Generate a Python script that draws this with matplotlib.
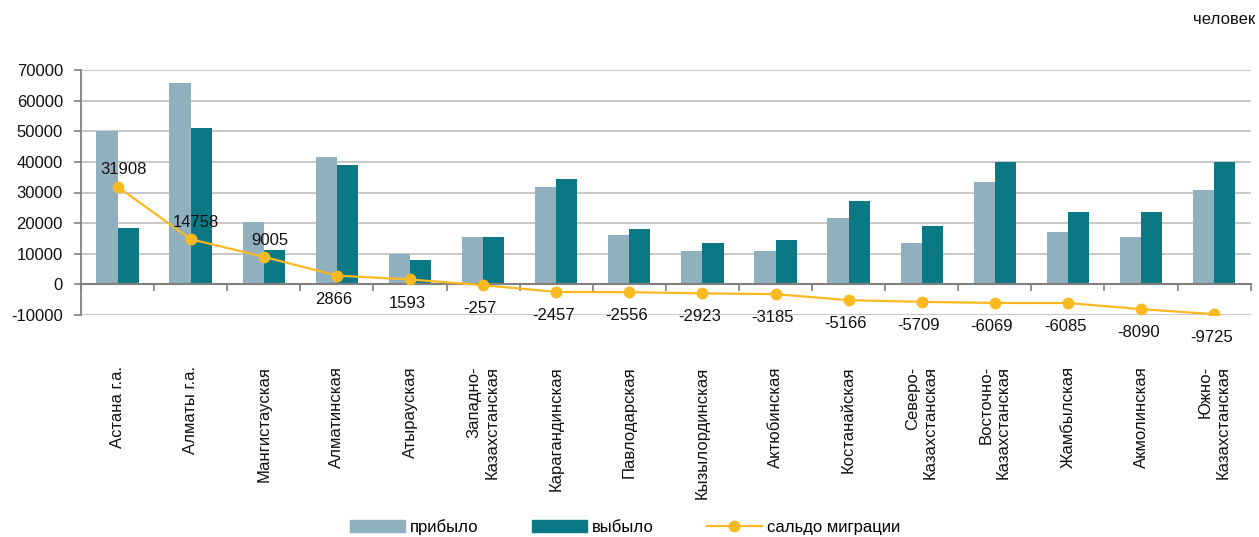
import matplotlib
matplotlib.use("Agg")
import matplotlib.pyplot as plt
import numpy as np
from matplotlib.lines import Line2D
from matplotlib.patches import Patch

plt.rcParams['font.family'] = ['Liberation Sans', 'DejaVu Sans']

categories = ["Астана г.а.", "Алматы г.а.", "Мангистауская", "Алматинская",
              "Атырауская", "Западно-\nКазахстанская", "Карагандинская",
              "Павлодарская", "Кызылординская", "Актюбинская", "Костанайская",
              "Северо-\nКазахстанская", "Восточно-\nКазахстанская",
              "Жамбылская", "Акмолинская", "Южно-\nКазахстанская"]
arrived = [50000, 65800, 20400, 41700, 9900, 15600, 31900, 16200,
           11000, 11000, 21800, 13600, 33500, 17200, 15600, 30900]
departed = [18300, 51100, 11200, 39100, 8100, 15600, 34500, 18200,
            13600, 14600, 27300, 19200, 40100, 23700, 23700, 40100]
saldo = [31908, 14758, 9005, 2866, 1593, -257, -2457, -2556,
         -2923, -3185, -5166, -5709, -6069, -6085, -8090, -9725]
yticks = [-10000, 0, 10000, 20000, 30000, 40000, 50000, 60000, 70000]

c_arr = "#8FB0BC"
c_dep = "#0B7985"
c_line = "#FBB921"
grid_c = "#C8C8C8"
spine_c = "#808080"

fig = plt.figure(figsize=(12.59, 5.37), dpi=100)
ax = fig.add_axes([81/1259, 1-315/537, (1250.7-81)/1259, (315-70)/537])

x = np.arange(len(categories))
w = 0.29
ax.bar(x - w/2, arrived, width=w, color=c_arr, zorder=2)
ax.bar(x + w/2, departed, width=w, color=c_dep, zorder=2)
ax.plot(x, saldo, color=c_line, lw=1.6, marker='o', markersize=7.5, zorder=3)

for xi, v in zip(x, saldo):
    if v > 5000:
        ax.annotate(f"{v}", (xi, v), xytext=(4, 12), textcoords='offset points',
                    ha='center', va='center', fontsize=12, color='#111111', zorder=4)
    else:
        ax.annotate(f"{v}", (xi, v), xytext=(-2, -17), textcoords='offset points',
                    ha='center', va='center', fontsize=12, color='#111111', zorder=4)

ax.set_ylim(-10000, 70000)
ax.set_xlim(-0.5, len(categories) - 0.5)
ax.set_yticks(yticks)
ax.set_yticklabels([str(t) for t in yticks])
ax.yaxis.grid(True, color=grid_c, lw=1.4, zorder=0)
ax.set_axisbelow(True)

for s in ['top', 'right']:
    ax.spines[s].set_visible(False)
ax.spines['left'].set_color(spine_c)
ax.spines['left'].set_linewidth(1.3)
ax.spines['bottom'].set_position(('data', 0))
ax.spines['bottom'].set_color(spine_c)
ax.spines['bottom'].set_linewidth(1.5)
ax.spines['bottom'].set_zorder(2.5)

ax.tick_params(axis='y', direction='out', length=5, width=1.2, color=spine_c,
               labelsize=12, pad=8, labelcolor='#111111')
ax.set_xticks(x)
ax.set_xticklabels(categories, rotation=90, ha='center', va='top',
                   multialignment='right', fontsize=12)
ax.tick_params(axis='x', which='major', length=0, pad=59, labelcolor='#111111')
ax.set_xticks(np.arange(len(categories) + 1) - 0.5, minor=True)
ax.tick_params(axis='x', which='minor', direction='out', length=5, width=1.2,
               color=spine_c)

handles = [Patch(color=c_arr), Patch(color=c_dep),
           Line2D([0], [0], color=c_line, lw=1.6, marker='o', markersize=7.5)]
fig.legend(handles, ["прибыло", "выбыло", "сальдо миграции"],
           loc='center', bbox_to_anchor=(625/1259, 10/537), ncol=3,
           frameon=False, fontsize=12, handlelength=3.3, handleheight=0.75,
           handletextpad=0.3, columnspacing=3.2, borderpad=0)

fig.text(0.997, 1 - 20/537, "человек", ha='right', va='center', fontsize=12,
         color='#111111')

fig.savefig("out.png", dpi=100)
